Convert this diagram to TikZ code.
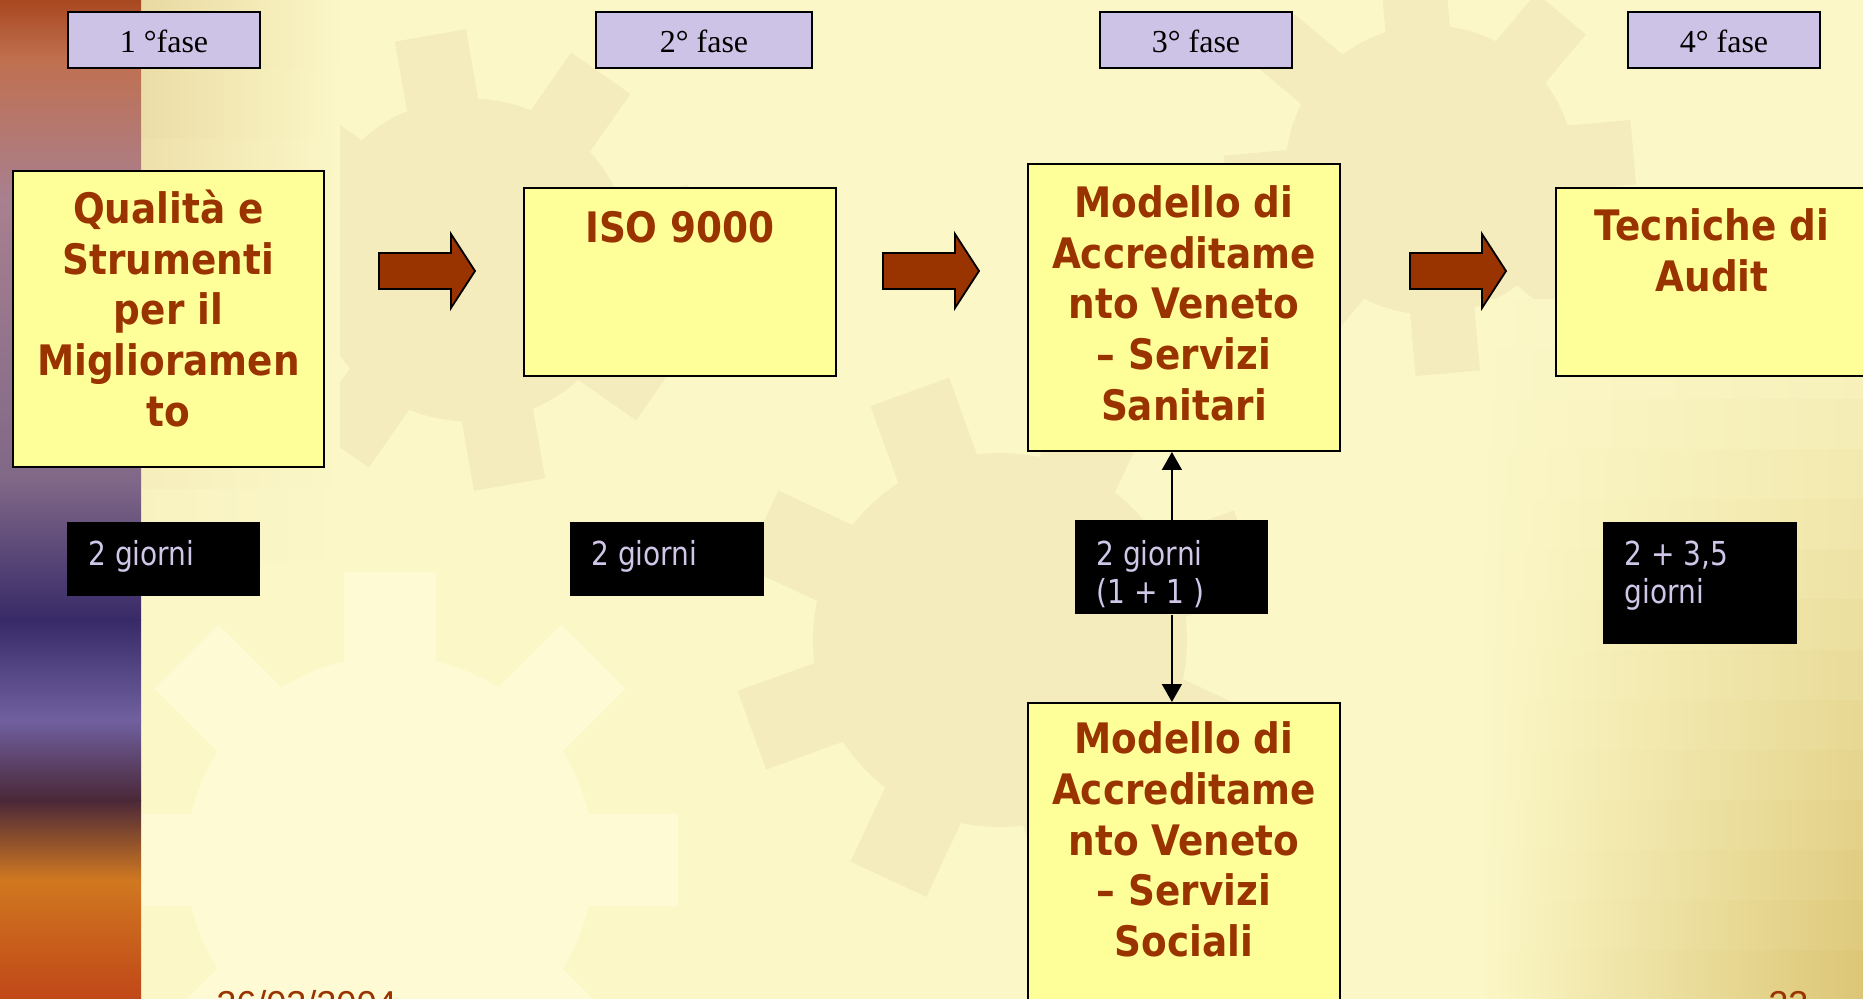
\documentclass[tikz,border=0pt]{standalone}
\usepackage{fontspec}
\usetikzlibrary{arrows.meta,calc}
\newfontfamily\tahb[FakeStretch=0.89]{DejaVu Sans}
\newfontfamily\tahr[FakeStretch=0.85]{DejaVu Sans}
\newfontfamily\tms{Liberation Serif}
\newfontfamily\ari{Liberation Sans}
\definecolor{bg}{HTML}{FBF7C6}
\definecolor{gearc}{HTML}{F4ECBC}
\definecolor{gearl}{HTML}{FDFAD4}
\definecolor{beige}{HTML}{E9D9A2}
\definecolor{gold}{HTML}{DCC676}
\definecolor{boxy}{HTML}{FFFF99}
\definecolor{dred}{HTML}{993300}
\definecolor{lav}{HTML}{CCC3E6}
\definecolor{lavtxt}{HTML}{CFC6E8}
\definecolor{sa}{HTML}{A84820}
\definecolor{sb}{HTML}{C07050}
\definecolor{sc}{HTML}{A88090}
\definecolor{sd}{HTML}{806888}
\definecolor{se}{HTML}{382A68}
\definecolor{sf}{HTML}{7060A0}
\definecolor{sg}{HTML}{4A2838}
\definecolor{sh}{HTML}{D07820}
\definecolor{si}{HTML}{C04818}
\newcommand{\mygear}[5]{% x y R color rot
  \fill[#4] (#1,#2) circle[radius=0.85*#3];
  \foreach \a in {0,45,...,315}{
    \fill[#4, rotate around={\a+#5:(#1,#2)}] ($(#1,#2)+(-0.19*#3,-1.2*#3)$) rectangle ($(#1,#2)+(0.19*#3,-0.7*#3)$);}
}
\tikzset{
  fasebox/.style={draw=black, line width=1pt, fill=lav, minimum height=28pt, anchor=north west, inner sep=0,
    font=\tms\fontsize{16}{19}\selectfont, text height=13pt, text depth=0pt},
  yellowbox/.style={draw=black, line width=1pt, fill=boxy, anchor=north west, inner sep=0, minimum width=156pt},
  boxtext/.style={text=dred, font=\tahb\bfseries\fontsize{21}{25.4}\selectfont, align=center, anchor=north, inner sep=0},
  daybox/.style={fill=black, anchor=north west, inner sep=0},
  daytext/.style={text=lavtxt, font=\tahr\fontsize{16.5}{19}\selectfont, align=left, anchor=north west, inner sep=0},
  footer/.style={text=dred, font=\ari\fontsize{18}{20}\selectfont, anchor=base west, inner sep=0},
  link/.style={line width=0.8pt, -{Triangle[width=10pt,length=9pt]}},
  pics/barrow/.style={code={
    \draw[fill=dred, line width=0.9pt, line join=miter] (0,-18) -- (72,-18) -- (72,-37) -- (96,0) -- (72,37) -- (72,18) -- (0,18) -- cycle;}}
}
\begin{document}
\begin{tikzpicture}[x=0.5pt,y=-0.5pt]
\clip (0,0) rectangle (1863,999);
% background
\fill[bg] (0,0) rectangle (1863,999);
\mygear{470}{260}{190}{gearc}{10}
\mygear{1000}{640}{220}{gearc}{20}
\mygear{1430}{170}{170}{gearc}{5}
\mygear{390}{860}{240}{gearl}{0}
\foreach \i [evaluate=\i as \p using int(100-\i*12)] in {0,...,7}{
  \fill[left color=beige!\p!bg, right color=bg] (141,{\i*70}) rectangle (340,{\i*70+71});}
\foreach \i [evaluate=\i as \p using int((\i+1)*100/14)] in {0,...,13}{
  \fill[left color=bg, right color=gold!\p!bg] (1480,{300+\i*50}) rectangle (1863,{351+\i*50});}
% left picture strip
\fill[top color=sa, bottom color=sb] (0,0) rectangle (141,60);
\fill[top color=sb, bottom color=sc] (0,60) rectangle (141,200);
\fill[top color=sc, bottom color=sd] (0,200) rectangle (141,480);
\fill[top color=sd, bottom color=se] (0,480) rectangle (141,620);
\fill[top color=se, bottom color=sf] (0,620) rectangle (141,720);
\fill[top color=sf, bottom color=sg] (0,720) rectangle (141,800);
\fill[top color=sg, bottom color=sh] (0,800) rectangle (141,880);
\fill[top color=sh, bottom color=si] (0,880) rectangle (141,999);

% phase labels
\node[fasebox, minimum width=96pt] (f1) at (67,11) {1 °fase};
\node[fasebox, minimum width=108pt] (f2) at (595,11) {2° fase};
\node[fasebox, minimum width=96pt] (f3) at (1099,11) {3° fase};
\node[fasebox, minimum width=96pt] (f4) at (1627,11) {4° fase};

% yellow boxes
\node[yellowbox, minimum width=155.5pt, minimum height=148pt] (b1) at (12,170) {};
\node[yellowbox, minimum height=94pt] (b2) at (523,187) {};
\node[yellowbox, minimum height=143.5pt] (b3) at (1027,163) {};
\node[yellowbox, minimum height=94pt] (b4) at (1555,187) {};
\node[yellowbox, minimum height=150pt] (b5) at (1027,702) {};

\node[boxtext] (t1) at ($(b1.north)+(0,11)$) {\rule{0pt}{1em}Qualità e\\Strumenti\\per il\\Miglioramen\\to};
\node[boxtext] (t2) at ($(b2.north)+(0,13)$) {\rule{0pt}{1em}ISO 9000};
\node[boxtext] (t3) at ($(b3.north)+(0,12)$) {\rule{0pt}{1em}Modello di\\Accreditame\\nto Veneto\\– Servizi\\Sanitari};
\node[boxtext] (t4) at ($(b4.north)+(0,11)$) {\rule{0pt}{1em}Tecniche di\\Audit};
\node[boxtext] (t5) at ($(b5.north)+(0,9)$) {\rule{0pt}{1em}Modello di\\Accreditame\\nto Veneto\\– Servizi\\Sociali};

% block arrows
\pic at (379,271) {barrow};
\pic at (883,271) {barrow};
\pic at (1410,271) {barrow};

% day boxes
\node[daybox, minimum width=96.5pt, minimum height=37pt] (g1) at (67,522) {};
\node[daybox, minimum width=97pt, minimum height=37pt] (g2) at (570,522) {};
\node[daybox, minimum width=96.5pt, minimum height=47pt] (g3) at (1075,520) {};
\node[daybox, minimum width=97pt, minimum height=61pt] (g4) at (1603,522) {};
\node[daytext] (d1) at ($(g1.north west)+(21,10)$) {\rule{0pt}{1em}2 giorni};
\node[daytext] (d2) at ($(g2.north west)+(21,10)$) {\rule{0pt}{1em}2 giorni};
\node[daytext] (d3) at ($(g3.north west)+(21,12)$) {\rule{0pt}{1em}2 giorni\\(1 + 1 )};
\node[daytext] (d4) at ($(g4.north west)+(21,10)$) {\rule{0pt}{1em}2 + 3,5\\giorni};

% connectors
\draw[link] (g3.north) -- (g3.north |- b3.south);
\draw[link] (g3.south) -- (g3.south |- b5.north);

% footer (cut by the lower edge, as in the reference)
\node[footer] (date) at (216,1016) {26/03/2004};
\node[footer] (pg) at (1768,1016) {23};
\end{tikzpicture}
\end{document}
